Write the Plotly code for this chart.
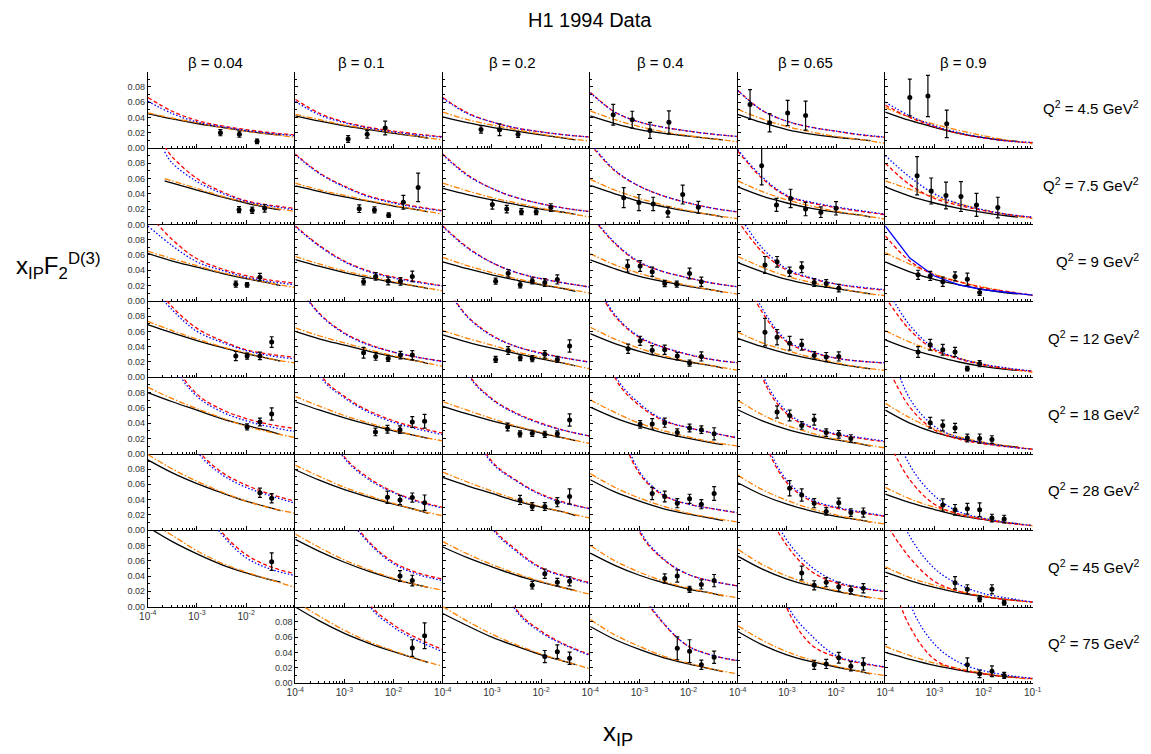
import plotly.graph_objects as go

# ---------------- data ----------------
TITLE = "H1 1994 Data"
BETAS = ["0.04", "0.1", "0.2", "0.4", "0.65", "0.9"]
Q2 = ["4.5", "7.5", "9", "12", "18", "28", "45", "75"]
# panels (row, col), 0-based; bottom-left panel is absent
PANELS = [(r, c) for r in range(8) for c in range(6) if not (r == 7 and c == 0)]

# x positions at which the model curves were read
X_GRID = [1e-4, 3.16e-4, 1e-3, 3.16e-3, 1e-2, 3.16e-2, 1e-1]
X_GRID_BLACK = [1e-4, 3.16e-4, 1e-3, 3.16e-3, 1e-2, 3.16e-2, 5e-2]
X_START = {(1, 0): 2.2e-4}  # curves start later in this panel

BLACK = [
    [0.045, 0.038, 0.032, 0.027, 0.022, 0.018, 0.017],
    [0.042, 0.035, 0.029, 0.024, 0.019, 0.015, 0.013],
    [0.0407, 0.033, 0.027, 0.022, 0.017, 0.0125, 0.0105],
    [0.042, 0.032, 0.024, 0.019, 0.0155, 0.012, 0.0105],
    [0.044, 0.033, 0.024, 0.018, 0.014, 0.011, 0.0095],
    [0.047, 0.036, 0.027, 0.019, 0.0134, 0.0095, 0.0086],
    [0.057, 0.054, 0.045, 0.036, 0.028, 0.021, 0.019],
    [0.0505, 0.043, 0.036, 0.030, 0.024, 0.019, 0.0165],
    [0.047, 0.039, 0.032, 0.026, 0.020, 0.0155, 0.013],
    [0.051, 0.040, 0.030, 0.023, 0.017, 0.012, 0.0095],
    [0.049, 0.037, 0.028, 0.021, 0.016, 0.012, 0.0095],
    [0.049, 0.037, 0.028, 0.021, 0.0155, 0.011, 0.0095],
    [0.062, 0.052, 0.044, 0.036, 0.029, 0.023, 0.020],
    [0.054, 0.045, 0.037, 0.030, 0.024, 0.0185, 0.016],
    [0.051, 0.042, 0.034, 0.027, 0.021, 0.0155, 0.0125],
    [0.0535, 0.042, 0.032, 0.025, 0.019, 0.014, 0.0115],
    [0.050, 0.038, 0.028, 0.021, 0.016, 0.011, 0.009],
    [0.051, 0.038, 0.028, 0.021, 0.015, 0.010, 0.009],
    [0.069, 0.058, 0.048, 0.039, 0.031, 0.024, 0.021],
    [0.060, 0.050, 0.042, 0.034, 0.027, 0.021, 0.018],
    [0.0555, 0.046, 0.038, 0.031, 0.024, 0.018, 0.015],
    [0.057, 0.044, 0.034, 0.026, 0.020, 0.015, 0.012],
    [0.051, 0.040, 0.031, 0.024, 0.018, 0.013, 0.011],
    [0.049, 0.037, 0.028, 0.020, 0.014, 0.010, 0.009],
    [0.080, 0.068, 0.057, 0.046, 0.037, 0.029, 0.025],
    [0.068, 0.057, 0.047, 0.038, 0.030, 0.023, 0.020],
    [0.062, 0.052, 0.043, 0.035, 0.027, 0.020, 0.017],
    [0.061, 0.047, 0.036, 0.027, 0.020, 0.014, 0.012],
    [0.0575, 0.043, 0.032, 0.024, 0.018, 0.013, 0.010],
    [0.057, 0.040, 0.028, 0.020, 0.014, 0.010, 0.009],
    [0.092, 0.075, 0.061, 0.049, 0.038, 0.029, 0.0255],
    [0.079, 0.065, 0.053, 0.043, 0.034, 0.026, 0.022],
    [0.069, 0.058, 0.048, 0.038, 0.030, 0.023, 0.019],
    [0.066, 0.050, 0.038, 0.028, 0.021, 0.015, 0.0125],
    [0.062, 0.046, 0.034, 0.025, 0.018, 0.013, 0.0105],
    [0.047, 0.036, 0.027, 0.019, 0.014, 0.0095, 0.0085],
    [0.104, 0.085, 0.069, 0.055, 0.044, 0.035, 0.032],
    [0.088, 0.072, 0.058, 0.046, 0.036, 0.028, 0.025],
    [0.078, 0.064, 0.052, 0.041, 0.032, 0.024, 0.021],
    [0.070, 0.054, 0.041, 0.031, 0.023, 0.017, 0.014],
    [0.066, 0.049, 0.036, 0.027, 0.020, 0.014, 0.0115],
    [0.045, 0.034, 0.025, 0.018, 0.013, 0.009, 0.008],
    [0.0995, 0.081, 0.065, 0.052, 0.041, 0.031, 0.027],
    [0.091, 0.075, 0.060, 0.048, 0.037, 0.028, 0.024],
    [0.074, 0.057, 0.044, 0.033, 0.025, 0.018, 0.015],
    [0.0675, 0.050, 0.037, 0.028, 0.021, 0.015, 0.012],
    [0.040, 0.031, 0.023, 0.017, 0.012, 0.008, 0.0075],
]

ORANGE = [
    [0.046, 0.039, 0.033, 0.027, 0.022, 0.018, 0.014],
    [0.044, 0.037, 0.030, 0.025, 0.020, 0.015, 0.0105],
    [0.047, 0.037, 0.030, 0.024, 0.018, 0.013, 0.0087],
    [0.0485, 0.037, 0.028, 0.021, 0.016, 0.012, 0.008],
    [0.0507, 0.038, 0.028, 0.021, 0.015, 0.011, 0.006],
    [0.053, 0.040, 0.031, 0.023, 0.016, 0.010, 0.0055],
    [0.060, 0.057, 0.047, 0.037, 0.029, 0.022, 0.017],
    [0.054, 0.045, 0.038, 0.031, 0.025, 0.019, 0.0135],
    [0.054, 0.044, 0.035, 0.028, 0.021, 0.015, 0.0098],
    [0.059, 0.045, 0.034, 0.025, 0.018, 0.012, 0.0076],
    [0.057, 0.043, 0.032, 0.024, 0.017, 0.012, 0.007],
    [0.057, 0.046, 0.036, 0.027, 0.019, 0.013, 0.0075],
    [0.065, 0.055, 0.046, 0.037, 0.030, 0.023, 0.0175],
    [0.058, 0.048, 0.039, 0.032, 0.025, 0.019, 0.013],
    [0.057, 0.046, 0.037, 0.029, 0.022, 0.016, 0.010],
    [0.0617, 0.047, 0.036, 0.027, 0.020, 0.014, 0.0088],
    [0.058, 0.044, 0.032, 0.024, 0.017, 0.011, 0.0067],
    [0.063, 0.048, 0.035, 0.025, 0.018, 0.012, 0.0067],
    [0.073, 0.061, 0.050, 0.040, 0.032, 0.024, 0.0187],
    [0.0646, 0.054, 0.045, 0.036, 0.028, 0.021, 0.0143],
    [0.061, 0.051, 0.042, 0.033, 0.026, 0.018, 0.011],
    [0.0655, 0.050, 0.038, 0.028, 0.021, 0.015, 0.009],
    [0.059, 0.045, 0.035, 0.026, 0.019, 0.013, 0.009],
    [0.061, 0.046, 0.034, 0.025, 0.017, 0.011, 0.0065],
    [0.087, 0.072, 0.059, 0.047, 0.036, 0.028, 0.021],
    [0.075, 0.062, 0.050, 0.040, 0.031, 0.023, 0.0168],
    [0.068, 0.057, 0.046, 0.036, 0.028, 0.020, 0.0133],
    [0.0705, 0.054, 0.040, 0.030, 0.022, 0.015, 0.010],
    [0.070, 0.051, 0.037, 0.027, 0.019, 0.013, 0.0076],
    [0.066, 0.047, 0.032, 0.022, 0.015, 0.010, 0.006],
    [0.099, 0.080, 0.064, 0.050, 0.038, 0.029, 0.022],
    [0.085, 0.070, 0.056, 0.045, 0.035, 0.026, 0.0188],
    [0.076, 0.063, 0.051, 0.040, 0.031, 0.023, 0.0158],
    [0.074, 0.056, 0.042, 0.031, 0.022, 0.016, 0.0106],
    [0.072, 0.053, 0.039, 0.028, 0.020, 0.013, 0.008],
    [0.056, 0.041, 0.030, 0.021, 0.015, 0.010, 0.0055],
    [0.112, 0.093, 0.073, 0.057, 0.045, 0.035, 0.025],
    [0.095, 0.077, 0.061, 0.048, 0.037, 0.028, 0.0215],
    [0.085, 0.069, 0.055, 0.043, 0.033, 0.024, 0.016],
    [0.080, 0.060, 0.045, 0.033, 0.024, 0.017, 0.0117],
    [0.075, 0.055, 0.040, 0.029, 0.021, 0.014, 0.0096],
    [0.052, 0.038, 0.028, 0.020, 0.014, 0.009, 0.0055],
    [0.107, 0.087, 0.069, 0.054, 0.042, 0.031, 0.022],
    [0.100, 0.081, 0.064, 0.050, 0.038, 0.028, 0.0185],
    [0.083, 0.063, 0.048, 0.035, 0.026, 0.018, 0.012],
    [0.075, 0.056, 0.041, 0.030, 0.022, 0.015, 0.0098],
    [0.048, 0.036, 0.026, 0.019, 0.013, 0.008, 0.005],
]

RED = [
    [0.066, 0.048, 0.036, 0.029, 0.024, 0.020, 0.017],
    [0.0637, 0.045, 0.034, 0.027, 0.022, 0.018, 0.0147],
    [0.066, 0.046, 0.034, 0.026, 0.021, 0.017, 0.0143],
    [0.073, 0.047, 0.034, 0.027, 0.022, 0.018, 0.015],
    [0.0755, 0.049, 0.035, 0.027, 0.022, 0.017, 0.014],
    [0.056, 0.040, 0.028, 0.019, 0.013, 0.009, 0.007],
    [0.102, 0.088, 0.060, 0.043, 0.031, 0.025, 0.021],
    [0.092, 0.067, 0.050, 0.037, 0.029, 0.023, 0.018],
    [0.092, 0.065, 0.047, 0.035, 0.027, 0.021, 0.0167],
    [0.105, 0.070, 0.050, 0.037, 0.028, 0.021, 0.0163],
    [0.096, 0.060, 0.037, 0.028, 0.022, 0.017, 0.0128],
    [0.080, 0.052, 0.034, 0.025, 0.018, 0.013, 0.009],
    [0.115, 0.080, 0.055, 0.042, 0.033, 0.027, 0.023],
    [0.098, 0.072, 0.052, 0.039, 0.031, 0.025, 0.0196],
    [0.098, 0.070, 0.050, 0.037, 0.029, 0.023, 0.018],
    [0.112, 0.075, 0.050, 0.038, 0.030, 0.023, 0.0183],
    [0.105, 0.064, 0.040, 0.029, 0.022, 0.017, 0.014],
    [0.085, 0.052, 0.034, 0.025, 0.017, 0.012, 0.0075],
    [0.135, 0.092, 0.064, 0.048, 0.036, 0.030, 0.026],
    [0.125, 0.083, 0.058, 0.043, 0.033, 0.026, 0.021],
    [0.125, 0.080, 0.055, 0.040, 0.032, 0.025, 0.020],
    [0.135, 0.080, 0.052, 0.039, 0.0295, 0.023, 0.019],
    [0.150, 0.085, 0.046, 0.033, 0.025, 0.021, 0.0186],
    [0.105, 0.062, 0.036, 0.024, 0.016, 0.011, 0.008],
    [0.25, 0.125, 0.078, 0.058, 0.046, 0.038, 0.033],
    [0.22, 0.105, 0.075, 0.056, 0.043, 0.034, 0.027],
    [0.22, 0.107, 0.072, 0.053, 0.040, 0.030, 0.023],
    [0.25, 0.100, 0.063, 0.043, 0.034, 0.027, 0.0205],
    [0.28, 0.100, 0.052, 0.034, 0.025, 0.020, 0.0155],
    [0.12, 0.061, 0.031, 0.019, 0.013, 0.009, 0.006],
    [0.40, 0.18, 0.107, 0.076, 0.059, 0.047, 0.038],
    [0.35, 0.16, 0.096, 0.068, 0.050, 0.038, 0.030],
    [0.33, 0.15, 0.090, 0.065, 0.047, 0.036, 0.028],
    [0.40, 0.16, 0.074, 0.045, 0.034, 0.028, 0.0225],
    [0.30, 0.125, 0.062, 0.038, 0.029, 0.023, 0.018],
    [0.125, 0.066, 0.034, 0.021, 0.014, 0.009, 0.006],
    [0.60, 0.28, 0.15, 0.098, 0.068, 0.052, 0.043],
    [0.50, 0.24, 0.13, 0.085, 0.058, 0.044, 0.036],
    [0.42, 0.19, 0.105, 0.074, 0.051, 0.040, 0.031],
    [0.55, 0.22, 0.098, 0.061, 0.042, 0.033, 0.027],
    [0.38, 0.145, 0.080, 0.046, 0.031, 0.024, 0.0195],
    [0.11, 0.064, 0.033, 0.020, 0.013, 0.009, 0.006],
    [0.90, 0.42, 0.20, 0.105, 0.076, 0.058, 0.0437],
    [0.80, 0.37, 0.175, 0.096, 0.068, 0.050, 0.037],
    [0.70, 0.30, 0.125, 0.077, 0.048, 0.036, 0.029],
    [0.50, 0.22, 0.098, 0.050, 0.034, 0.026, 0.0207],
    [0.16, 0.074, 0.031, 0.018, 0.012, 0.008, 0.006],
]

BLUE = [
    [0.061, 0.045, 0.034, 0.028, 0.023, 0.019, 0.016],
    [0.061, 0.043, 0.033, 0.026, 0.021, 0.017, 0.014],
    [0.065, 0.045, 0.034, 0.026, 0.021, 0.017, 0.0143],
    [0.072, 0.047, 0.034, 0.027, 0.022, 0.018, 0.015],
    [0.075, 0.049, 0.035, 0.027, 0.022, 0.0175, 0.0142],
    [0.060, 0.042, 0.029, 0.020, 0.0135, 0.009, 0.0072],
    [0.095, 0.080, 0.056, 0.041, 0.030, 0.024, 0.019],
    [0.091, 0.066, 0.049, 0.036, 0.028, 0.022, 0.0175],
    [0.091, 0.064, 0.047, 0.035, 0.027, 0.021, 0.0165],
    [0.107, 0.071, 0.050, 0.037, 0.028, 0.021, 0.0165],
    [0.098, 0.062, 0.038, 0.029, 0.023, 0.018, 0.0135],
    [0.090, 0.062, 0.040, 0.027, 0.019, 0.013, 0.0095],
    [0.098, 0.072, 0.051, 0.040, 0.031, 0.025, 0.021],
    [0.097, 0.071, 0.051, 0.038, 0.030, 0.024, 0.0193],
    [0.097, 0.069, 0.050, 0.037, 0.029, 0.023, 0.018],
    [0.114, 0.076, 0.051, 0.038, 0.030, 0.023, 0.0185],
    [0.115, 0.069, 0.042, 0.030, 0.022, 0.018, 0.0145],
    [0.098, 0.056, 0.0325, 0.021, 0.0145, 0.011, 0.0075],
    [0.125, 0.088, 0.060, 0.046, 0.035, 0.028, 0.024],
    [0.124, 0.082, 0.057, 0.042, 0.033, 0.026, 0.0205],
    [0.124, 0.079, 0.054, 0.040, 0.031, 0.025, 0.0195],
    [0.140, 0.082, 0.053, 0.039, 0.030, 0.023, 0.019],
    [0.160, 0.090, 0.048, 0.034, 0.025, 0.021, 0.019],
    [0.120, 0.068, 0.038, 0.025, 0.017, 0.012, 0.008],
    [0.24, 0.120, 0.075, 0.055, 0.043, 0.035, 0.029],
    [0.21, 0.102, 0.073, 0.054, 0.041, 0.032, 0.025],
    [0.21, 0.105, 0.071, 0.052, 0.039, 0.030, 0.023],
    [0.27, 0.104, 0.066, 0.044, 0.034, 0.027, 0.021],
    [0.30, 0.105, 0.055, 0.035, 0.026, 0.021, 0.0165],
    [0.16, 0.072, 0.036, 0.021, 0.0145, 0.009, 0.006],
    [0.38, 0.17, 0.103, 0.073, 0.056, 0.045, 0.035],
    [0.34, 0.155, 0.094, 0.066, 0.049, 0.037, 0.029],
    [0.32, 0.145, 0.088, 0.064, 0.046, 0.035, 0.028],
    [0.42, 0.17, 0.077, 0.046, 0.034, 0.028, 0.023],
    [0.32, 0.13, 0.065, 0.040, 0.030, 0.024, 0.0185],
    [0.17, 0.085, 0.045, 0.024, 0.0155, 0.010, 0.006],
    [0.58, 0.27, 0.145, 0.095, 0.064, 0.049, 0.0405],
    [0.49, 0.23, 0.127, 0.083, 0.056, 0.042, 0.034],
    [0.41, 0.185, 0.103, 0.072, 0.050, 0.039, 0.030],
    [0.57, 0.23, 0.101, 0.062, 0.042, 0.033, 0.027],
    [0.40, 0.155, 0.087, 0.052, 0.033, 0.025, 0.020],
    [0.17, 0.092, 0.050, 0.029, 0.017, 0.011, 0.006],
    [0.88, 0.41, 0.195, 0.102, 0.073, 0.055, 0.041],
    [0.78, 0.36, 0.17, 0.094, 0.066, 0.049, 0.036],
    [0.72, 0.31, 0.128, 0.078, 0.048, 0.036, 0.0294],
    [0.55, 0.24, 0.103, 0.062, 0.036, 0.027, 0.021],
    [0.28, 0.105, 0.051, 0.027, 0.016, 0.010, 0.006],
]
BLUE_SOLID = {(2, 5)}  # this panel shows the blue model as a solid polyline

PTS_X = [
    [3.0e-3, 7.3e-3, 1.67e-2],
    [1.19e-3, 2.9e-3, 6.75e-3],
    [6.0e-4, 1.43e-3, 3.4e-3],
    [2.93e-4, 7.14e-4, 1.64e-3, 3.98e-3],
    [1.78e-4, 4.45e-4, 1.035e-3, 2.4e-3],
    [3.16e-4, 7.38e-4, 1.78e-3],
    [7.18e-3, 1.33e-2, 2.38e-2],
    [2.0e-3, 4.07e-3, 7.94e-3, 1.58e-2, 3.16e-2],
    [1.02e-3, 2.0e-3, 3.98e-3, 7.94e-3, 1.58e-2],
    [4.79e-4, 9.77e-4, 1.905e-3, 3.8e-3, 7.59e-3, 1.58e-2],
    [3.07e-4, 6.14e-4, 1.19e-3, 2.4e-3, 4.9e-3, 1.0e-2],
    [4.45e-4, 8.61e-4, 1.72e-3, 3.47e-3, 7.18e-3, 1.95e-2],
    [6.17e-3, 1.047e-2, 1.905e-2],
    [2.45e-3, 4.32e-3, 7.76e-3, 1.38e-2, 2.4e-2],
    [1.19e-3, 2.14e-3, 3.76e-3, 6.61e-3, 1.19e-2, 2.14e-2],
    [5.75e-4, 1.035e-3, 1.82e-3, 3.27e-3, 5.75e-3, 1.047e-2, 1.82e-2],
    [3.58e-4, 6.31e-4, 1.135e-3, 2.0e-3, 3.59e-3, 6.31e-3, 1.135e-2],
    [4.66e-4, 8.22e-4, 1.48e-3, 2.63e-3, 4.68e-3, 8.32e-3],
    [6.17e-3, 1.047e-2, 1.905e-2, 3.31e-2],
    [2.45e-3, 4.32e-3, 7.76e-3, 1.38e-2, 2.4e-2],
    [1.19e-3, 2.14e-3, 3.76e-3, 6.61e-3, 1.19e-2, 2.14e-2, 3.8e-2],
    [5.89e-4, 1.035e-3, 1.82e-3, 3.27e-3, 5.89e-3, 1.047e-2, 1.82e-2],
    [3.58e-4, 6.31e-4, 1.135e-3, 2.0e-3, 3.59e-3, 6.31e-3, 1.135e-2],
    [4.66e-4, 8.22e-4, 1.48e-3, 2.63e-3, 4.68e-3, 8.32e-3],
    [1.047e-2, 1.905e-2, 3.31e-2],
    [4.27e-3, 7.5e-3, 1.35e-2, 2.4e-2, 4.27e-2],
    [2.09e-3, 3.72e-3, 6.61e-3, 1.19e-2, 2.14e-2, 3.8e-2],
    [1.035e-3, 1.82e-3, 3.27e-3, 5.89e-3, 1.047e-2, 1.82e-2, 3.31e-2],
    [6.31e-4, 1.135e-3, 2.0e-3, 3.59e-3, 6.31e-3, 1.135e-2, 2.0e-2],
    [8.22e-4, 1.48e-3, 2.63e-3, 4.68e-3, 8.32e-3, 1.48e-2],
    [1.905e-2, 3.31e-2],
    [7.5e-3, 1.35e-2, 2.4e-2, 4.27e-2],
    [3.72e-3, 6.61e-3, 1.19e-2, 2.14e-2, 3.8e-2],
    [1.82e-3, 3.27e-3, 5.89e-3, 1.047e-2, 1.82e-2, 3.31e-2],
    [1.135e-3, 2.0e-3, 3.59e-3, 6.31e-3, 1.135e-2, 2.0e-2, 3.59e-2],
    [1.48e-3, 2.63e-3, 4.68e-3, 8.32e-3, 1.48e-2, 2.63e-2],
    [3.31e-2],
    [1.35e-2, 2.4e-2],
    [6.61e-3, 1.19e-2, 2.14e-2, 3.8e-2],
    [3.27e-3, 5.89e-3, 1.047e-2, 1.82e-2, 3.31e-2],
    [2.0e-3, 3.59e-3, 6.31e-3, 1.135e-2, 2.0e-2, 3.59e-2],
    [2.63e-3, 4.68e-3, 8.32e-3, 1.48e-2, 2.63e-2],
    [2.4e-2, 4.27e-2],
    [1.19e-2, 2.14e-2, 3.8e-2],
    [5.89e-3, 1.047e-2, 1.82e-2, 3.31e-2],
    [3.59e-3, 6.31e-3, 1.135e-2, 2.0e-2, 3.59e-2],
    [4.68e-3, 8.32e-3, 1.48e-2, 2.63e-2],
]

PTS_Y = [
    [0.020, 0.018, 0.0087],
    [0.0117, 0.0178, 0.026],
    [0.0243, 0.0238, 0.0178],
    [0.0435, 0.037, 0.023, 0.0335],
    [0.0567, 0.033, 0.0457, 0.0424],
    [0.066, 0.068, 0.0316],
    [0.0193, 0.0185, 0.021],
    [0.0206, 0.019, 0.012, 0.029, 0.0484],
    [0.026, 0.020, 0.0167, 0.0167, 0.022],
    [0.035, 0.0286, 0.0268, 0.016, 0.039, 0.0225],
    [0.0766, 0.0255, 0.034, 0.020, 0.016, 0.021],
    [0.0636, 0.0437, 0.0377, 0.0364, 0.0255, 0.022],
    [0.0218, 0.021, 0.031],
    [0.025, 0.032, 0.026, 0.0255, 0.032],
    [0.0257, 0.036, 0.021, 0.026, 0.024, 0.028],
    [0.0456, 0.0456, 0.038, 0.0227, 0.0218, 0.0357, 0.025],
    [0.047, 0.051, 0.038, 0.044, 0.024, 0.0227, 0.0166],
    [0.034, 0.0326, 0.025, 0.032, 0.0283, 0.011],
    [0.0277, 0.0277, 0.028, 0.046],
    [0.032, 0.0273, 0.0247, 0.029, 0.029],
    [0.0234, 0.035, 0.0257, 0.0243, 0.030, 0.0234, 0.041],
    [0.0373, 0.0477, 0.0355, 0.036, 0.0277, 0.0186, 0.0273],
    [0.059, 0.0525, 0.0446, 0.0425, 0.0286, 0.0264, 0.0273],
    [0.033, 0.0425, 0.036, 0.033, 0.0113, 0.0178],
    [0.035, 0.0415, 0.052],
    [0.0285, 0.032, 0.0315, 0.0415, 0.0424],
    [0.035, 0.026, 0.0267, 0.0254, 0.026, 0.044],
    [0.0384, 0.039, 0.0406, 0.0276, 0.0337, 0.0315, 0.026],
    [0.0545, 0.050, 0.037, 0.0445, 0.0276, 0.0254, 0.0198],
    [0.0405, 0.037, 0.0336, 0.0206, 0.0198, 0.0185],
    [0.049, 0.0418],
    [0.043, 0.0396, 0.0426, 0.036],
    [0.0396, 0.031, 0.031, 0.0366, 0.044],
    [0.048, 0.044, 0.0353, 0.041, 0.034, 0.048],
    [0.0548, 0.046, 0.0353, 0.0245, 0.036, 0.023, 0.023],
    [0.033, 0.0266, 0.028, 0.0266, 0.0158, 0.0145],
    [0.0588],
    [0.040, 0.034],
    [0.028, 0.043, 0.032, 0.033],
    [0.0368, 0.040, 0.0226, 0.029, 0.034],
    [0.044, 0.0278, 0.032, 0.026, 0.0217, 0.024],
    [0.0312, 0.0226, 0.0104, 0.0226, 0.005],
    [0.0458, 0.0618],
    [0.0346, 0.041, 0.0325],
    [0.0455, 0.0416, 0.024, 0.0337],
    [0.0238, 0.025, 0.033, 0.022, 0.025],
    [0.0238, 0.012, 0.0155, 0.010],
]

PTS_ERR = [
    [0.004, 0.004, 0.003],
    [0.0045, 0.005, 0.009],
    [0.005, 0.0076, 0.004],
    [0.0135, 0.011, 0.0105, 0.015],
    [0.0195, 0.012, 0.0165, 0.019],
    [0.024, 0.027, 0.018],
    [0.004, 0.004, 0.005],
    [0.005, 0.004, 0.003, 0.009, 0.0186],
    [0.006, 0.005, 0.004, 0.004, 0.005],
    [0.013, 0.0105, 0.0087, 0.0065, 0.0123, 0.0077],
    [0.025, 0.0085, 0.012, 0.0087, 0.007, 0.0087],
    [0.025, 0.017, 0.0175, 0.0195, 0.015, 0.0135],
    [0.004, 0.003, 0.005],
    [0.004, 0.005, 0.005, 0.005, 0.007],
    [0.004, 0.005, 0.004, 0.004, 0.005, 0.006],
    [0.008, 0.007, 0.006, 0.004, 0.004, 0.007, 0.006],
    [0.011, 0.007, 0.006, 0.007, 0.005, 0.005, 0.005],
    [0.006, 0.006, 0.006, 0.006, 0.008, 0.004],
    [0.006, 0.004, 0.005, 0.007],
    [0.007, 0.005, 0.004, 0.005, 0.006],
    [0.004, 0.005, 0.004, 0.004, 0.005, 0.004, 0.008],
    [0.006, 0.006, 0.006, 0.006, 0.005, 0.004, 0.006],
    [0.018, 0.010, 0.009, 0.007, 0.005, 0.006, 0.006],
    [0.007, 0.007, 0.007, 0.006, 0.003, 0.004],
    [0.004, 0.005, 0.008],
    [0.005, 0.005, 0.005, 0.007, 0.009],
    [0.005, 0.004, 0.004, 0.004, 0.004, 0.008],
    [0.005, 0.007, 0.006, 0.005, 0.005, 0.005, 0.008],
    [0.008, 0.007, 0.005, 0.007, 0.005, 0.005, 0.005],
    [0.007, 0.007, 0.006, 0.005, 0.006, 0.005],
    [0.006, 0.006],
    [0.008, 0.006, 0.006, 0.010],
    [0.006, 0.005, 0.005, 0.006, 0.010],
    [0.008, 0.007, 0.006, 0.006, 0.006, 0.009],
    [0.010, 0.008, 0.006, 0.005, 0.006, 0.005, 0.006],
    [0.008, 0.007, 0.007, 0.009, 0.005, 0.005],
    [0.0115],
    [0.007, 0.007],
    [0.005, 0.006, 0.005, 0.006],
    [0.006, 0.008, 0.004, 0.006, 0.008],
    [0.009, 0.006, 0.006, 0.006, 0.005, 0.006],
    [0.008, 0.006, 0.004, 0.006, 0.003],
    [0.0108, 0.0168],
    [0.008, 0.009, 0.008],
    [0.015, 0.015, 0.006, 0.008],
    [0.006, 0.006, 0.007, 0.006, 0.008],
    [0.009, 0.005, 0.007, 0.004],
]

X_TICKS = [1e-4, 1e-3, 1e-2, 1e-1]
X_MINOR = [m * 10.0 ** e for e in (-4, -3, -2) for m in range(2, 10)]
Y_TICKS = [0.0, 0.02, 0.04, 0.06, 0.08]
Y_MINOR = [0.01, 0.03, 0.05, 0.07, 0.09]

# ---------------- layout helpers ----------------
W, H = 1151, 754
LEFT, COLW = 141.0, 149.83
TOP, ROWH = 72.0, 76.95
FONT = "Liberation Sans, Arial, sans-serif"
ORANGE_C = "rgb(255,128,0)"

fig = go.Figure()
layout_axes = {}

for k, (r, c) in enumerate(PANELS):
    sfx = "" if k == 0 else str(k + 1)
    xa, ya = "x" + sfx, "y" + sfx
    x0 = X_START.get((r, c), 1e-4)
    gx = [x0] + X_GRID[1:]
    gbx = [x0] + X_GRID_BLACK[1:]
    common = dict(mode="lines", xaxis=xa, yaxis=ya, showlegend=False, hoverinfo="skip")
    fig.add_trace(go.Scatter(x=gbx, y=BLACK[k],
                             line=dict(color="black", width=1.3, shape="spline"), **common))
    fig.add_trace(go.Scatter(x=gx, y=ORANGE[k],
                             line=dict(color=ORANGE_C, width=1.3, shape="spline",
                                       dash="6px,2px,1.5px,2px"), **common))
    fig.add_trace(go.Scatter(x=gx, y=RED[k],
                             line=dict(color="red", width=1.3, shape="spline",
                                       dash="4px,2.5px"), **common))
    if (r, c) in BLUE_SOLID:
        bl = dict(color="blue", width=1.3, shape="linear")
    else:
        bl = dict(color="blue", width=1.3, shape="spline", dash="1.5px,2px")
    fig.add_trace(go.Scatter(x=gx, y=BLUE[k], line=bl, **common))
    fig.add_trace(go.Scatter(
        x=PTS_X[k], y=PTS_Y[k], mode="markers", xaxis=xa, yaxis=ya,
        showlegend=False, hoverinfo="skip",
        marker=dict(color="black", size=5),
        error_y=dict(type="data", array=PTS_ERR[k], color="black",
                     thickness=1.2, width=2)))

    xd = [(LEFT + c * COLW) / W, (LEFT + (c + 1) * COLW) / W]
    yd = [1 - (TOP + (r + 1) * ROWH) / H, 1 - (TOP + r * ROWH) / H]
    show_x = (r == 7) or (r == 6 and c == 0)
    show_y = (c == 0) or (r == 7 and c == 1)
    xt = ["10<sup>-4</sup>", "10<sup>-3</sup>", "10<sup>-2</sup>",
          "10<sup>-1</sup>" if c == 5 else ""]
    layout_axes["xaxis" + sfx] = dict(
        domain=xd, anchor=ya, type="log", range=[-4, -1],
        showline=True, linecolor="black", linewidth=1, mirror=False,
        showgrid=False, zeroline=False,
        ticks="inside", ticklen=4, tickcolor="black", tickwidth=1,
        tickvals=X_TICKS, ticktext=xt, showticklabels=show_x,
        tickfont=dict(size=10, color="#333", family=FONT),
        minor=dict(tickvals=X_MINOR, ticks="inside", ticklen=2,
                   tickcolor="black", tickwidth=1, showgrid=False),
    )
    layout_axes["yaxis" + sfx] = dict(
        domain=yd, anchor=xa, range=[0, 0.1],
        showline=True, linecolor="black", linewidth=1, mirror=False,
        showgrid=False, zeroline=False,
        ticks="inside", ticklen=3, tickcolor="black", tickwidth=1,
        tickvals=Y_TICKS, ticktext=["%.2f" % v for v in Y_TICKS],
        showticklabels=show_y,
        tickfont=dict(size=9, color="#333", family=FONT),
        minor=dict(tickvals=Y_MINOR, ticks="inside", ticklen=2,
                   tickcolor="black", tickwidth=1, showgrid=False),
    )

ann = []
def px(xp, yp, text, size, xanchor="center"):
    ann.append(dict(x=xp / W, y=1 - yp / H, xref="paper", yref="paper", text=text,
                    showarrow=False, xanchor=xanchor, yanchor="middle",
                    font=dict(size=size, color="black", family=FONT)))

px(590, 20, TITLE, 20)
BETA_X = [210, 358, 511, 662, 809, 970]
for c, b in enumerate(BETAS):
    px(BETA_X[c], 63, "\u03b2 = " + b, 15)
for r, q in enumerate(Q2):
    px(1150, TOP + (r + 0.5) * ROWH - 2, "Q<sup>2</sup> = " + q + " GeV<sup>2</sup>", 15,
       xanchor="right")
px(50, 268, "x<sub>IP</sub>F<sub>2</sub><sup>D(3)</sup>", 24)
px(619, 738, "x<sub>IP</sub>", 26)

fig.update_layout(
    width=W, height=H, autosize=False,
    margin=dict(l=0, r=0, t=0, b=0),
    paper_bgcolor="white", plot_bgcolor="white",
    font=dict(family=FONT),
    annotations=ann, showlegend=False,
    **layout_axes,
)

fig.write_html("out.html")
